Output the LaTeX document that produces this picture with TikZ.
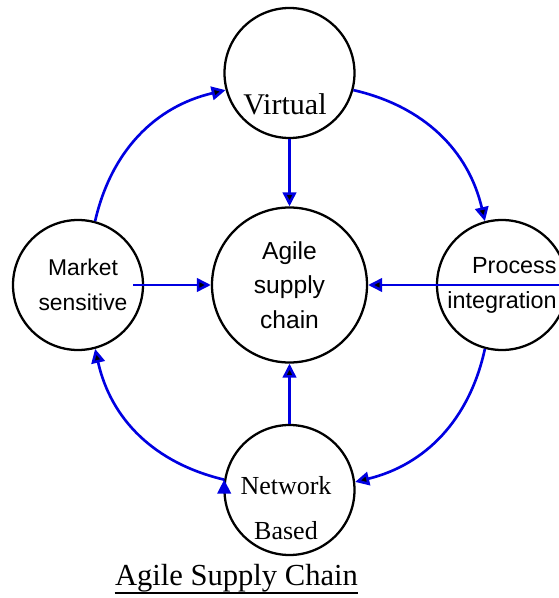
\documentclass[tikz,border=0pt]{standalone}
\usepackage{fontspec}
\setmainfont{Liberation Serif}
\setsansfont{Liberation Sans}
\usepackage{tikz}
\usetikzlibrary{arrows.meta,positioning}
\definecolor{flowblue}{RGB}{0,0,225}

\begin{document}
\begin{tikzpicture}
	\tikzset{circ/.style={draw,circle,line width=1.3pt,minimum size=2.6cm,inner sep=0pt,align=center}}
	\tikzset{flow/.style={draw=flowblue,line width=1.5pt,-{Triangle[length=0.28cm,width=0.27cm]}}}
	\useasboundingbox (-5.79,-6.26) rectangle (5.39,5.7);

	%% Circles
	\node[circ,minimum size=3.1cm,font=\sffamily\fontsize{14}{19.6}\selectfont] (agile) at (0,0) {Agile\\supply\\chain};
	\node[circ] (virt) at (0,4.24) {};
	\node[circ,font=\sffamily\fontsize{13}{20}\selectfont] (mkt) at (-4.23,0) {\hspace{0.2cm}Market\\\hspace{0.2cm}sensitive};
	\node[circ,align=right,font=\sffamily\fontsize{13.3}{20}\selectfont] (proc) at (4.25,0) {Process\\integration};
	\node[circ] (net) at (0,-4.1) {};
	\node[font=\fontsize{17.1}{20}\selectfont,anchor=base] (virtlabel) at (-0.09,3.4) {Virtual};
	\node[font=\fontsize{14.8}{25.6}\selectfont,align=center] (netlabel) at (-0.07,-4.46) {Network\\Based};

	%% Arrows
	\path[flow]
		(virt) edge (agile)
		(net) edge (agile)
		([xshift=-0.22cm]mkt.east) edge (agile)
		(proc.east) edge (agile)
		(mkt.75) edge[bend left=32] (virt.195)
		(virt.-15) edge[bend left=32] (proc.105)
		(proc.255) edge[bend left=32] (net.7)
		(net.171) edge[bend left=32] (mkt.285);

	%% Caption
	\node[font=\fontsize{17.4}{20}\selectfont,inner sep=0pt,anchor=base] (title) at (-1.06,-6.0) {Agile Supply Chain};
	\draw[line width=0.9pt] ([yshift=-0.16cm]title.base west) -- ([yshift=-0.16cm]title.base east);
\end{tikzpicture}
\end{document}
